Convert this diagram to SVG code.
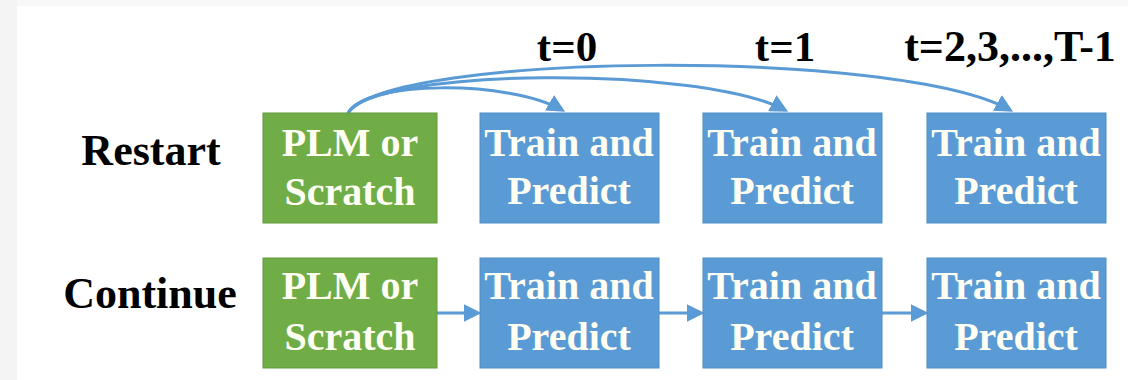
<svg xmlns="http://www.w3.org/2000/svg" width="1128" height="380" viewBox="0 0 1128 380">
<defs>
<style>
.lbl{font-weight:bold;fill:#000;text-anchor:middle}
.bt{font-weight:bold;font-size:40px;fill:#fffff4;text-anchor:middle}
.g{fill:#70ad47;stroke:#5f9a3a;stroke-width:1}
.b{fill:#5b9bd5;stroke:#4f8cc4;stroke-width:1}
.c{fill:none;stroke:#5b9bd5;stroke-width:3}
</style>
<marker id="ah" viewBox="0 0 10 10" refX="8" refY="5" markerWidth="6" markerHeight="6" orient="auto" markerUnits="strokeWidth">
<path d="M0,0 L10,5 L0,10 z" fill="#5b9bd5"/>
</marker>
</defs>
<rect x="0" y="0" width="1128" height="380" fill="#ffffff"/>
<rect x="0" y="0" width="17" height="380" fill="#f4f4f4"/>
<rect x="17" y="0" width="1111" height="6" fill="#f8f8f8"/>

<g font-family="Liberation Serif, Times New Roman, serif">
<g id="labels">
<text class="lbl" x="151" y="165" font-size="44">Restart</text>
<text class="lbl" x="150" y="308" font-size="44">Continue</text>
<text class="lbl" x="567" y="61" font-size="43">t=0</text>
<text class="lbl" x="785" y="61" font-size="43">t=1</text>
<text class="lbl" x="1010" y="61" font-size="44">t=2,3,...,T-1</text>
</g>

<g id="connectors">
<path class="c" d="M348,113 C365,80 510,80 562,110" marker-end="url(#ah)"/>
<path class="c" d="M348,113 C375,68 700,65 785,110" marker-end="url(#ah)"/>
<path class="c" d="M348,113 C390,52 900,48 1010,110" marker-end="url(#ah)"/>
<path class="c" d="M437,313 L478,313" marker-end="url(#ah)"/>
<path class="c" d="M659,313 L701,313" marker-end="url(#ah)"/>
<path class="c" d="M882,313 L925,313" marker-end="url(#ah)"/>
</g>

<g id="r-init">
<rect class="g" x="263" y="113" width="174" height="110"/>
<text class="bt" x="350" y="156">PLM or</text>
<text class="bt" x="350" y="205">Scratch</text>
</g>
<g id="r-t0">
<rect class="b" x="480" y="113" width="179" height="110"/>
<text class="bt" x="569" y="156">Train and</text>
<text class="bt" x="569" y="204">Predict</text>
</g>
<g id="r-t1">
<rect class="b" x="703" y="113" width="179" height="110"/>
<text class="bt" x="792" y="156">Train and</text>
<text class="bt" x="792" y="204">Predict</text>
</g>
<g id="r-t2">
<rect class="b" x="927" y="113" width="179" height="110"/>
<text class="bt" x="1016" y="156">Train and</text>
<text class="bt" x="1016" y="204">Predict</text>
</g>

<g id="c-init">
<rect class="g" x="263" y="258" width="174" height="110"/>
<text class="bt" x="350" y="299">PLM or</text>
<text class="bt" x="350" y="350">Scratch</text>
</g>
<g id="c-t0">
<rect class="b" x="480" y="258" width="179" height="110"/>
<text class="bt" x="569" y="299">Train and</text>
<text class="bt" x="569" y="350">Predict</text>
</g>
<g id="c-t1">
<rect class="b" x="703" y="258" width="179" height="110"/>
<text class="bt" x="792" y="299">Train and</text>
<text class="bt" x="792" y="350">Predict</text>
</g>
<g id="c-t2">
<rect class="b" x="927" y="258" width="179" height="110"/>
<text class="bt" x="1016" y="299">Train and</text>
<text class="bt" x="1016" y="350">Predict</text>
</g>
</g>
</svg>
